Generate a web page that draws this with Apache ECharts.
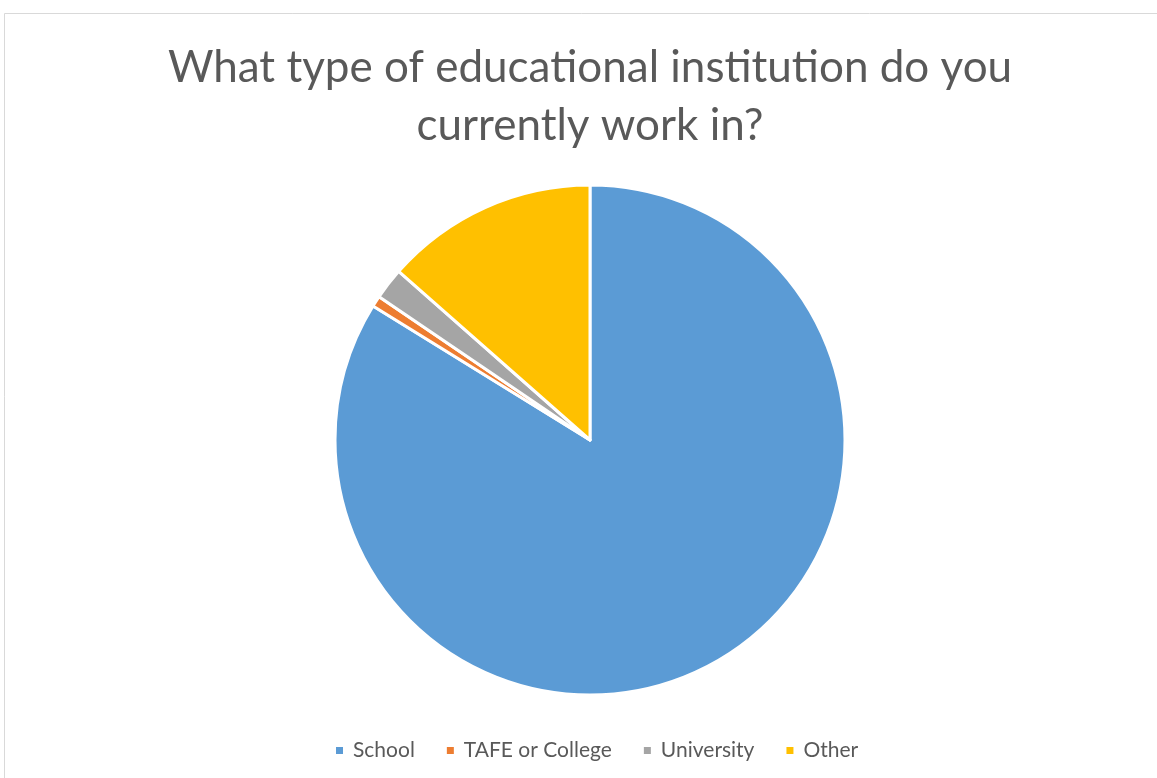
<!DOCTYPE html>
<html>
<head>
<meta charset="utf-8">
<script src="https://cdn.jsdelivr.net/npm/echarts@6/dist/echarts.min.js"></script>
<style>
html, body { margin:0; padding:0; background:#fff; }
#main { width:1157px; height:778px; }
</style>
</head>
<body>
<div id="main"></div>
<script>
var categories = ['School', 'TAFE or College', 'University', 'Other'];
var values = [83.8, 0.7, 2.0, 13.5];
var colors = ['#5b9bd5', '#ed7d31', '#a5a5a5', '#ffc000'];

function initPage()
{
	var data = [];
	for (var i = 0; i < categories.length; i++) {
		data.push({ name: categories[i], value: values[i], itemStyle: { color: colors[i] } });
	}

	var option = {
		backgroundColor: '#fff',
		animation: false,
		title: {
			text: 'What type of educational institution do you\ncurrently work in?',
			left: 585,
			top: 34,
			textAlign: 'center',
			textStyle: {
				fontFamily: 'Lato',
				fontWeight: 'normal',
				fontSize: 44,
				lineHeight: 58,
				color: '#595959'
			}
		},
		legend: {
			data: categories,
			bottom: 12,
			left: 329,
			icon: 'rect',
			itemWidth: 9,
			itemHeight: 9,
			itemGap: 30,
			textStyle: {
				fontFamily: 'Lato',
				fontSize: 21,
				color: '#595959',
				padding: [0, 0, 0, 4]
			}
		},
		graphic: [
			{
				type: 'rect',
				shape: { x: 4.5, y: 13.5, width: 1200, height: 800 },
				style: { fill: 'none', stroke: '#d9d9d9', lineWidth: 1 },
				silent: true
			}
		],
		series: [
			{
				type: 'pie',
				center: [590, 440],
				radius: 255,
				startAngle: 90,
				clockwise: true,
				label: { show: false },
				labelLine: { show: false },
				itemStyle: { borderColor: '#fff', borderWidth: 3 },
				data: data
			}
		]
	};

	var myChart = echarts.init(document.getElementById('main'));
	myChart.setOption(option);
}

initPage();
</script>
</body>
</html>
